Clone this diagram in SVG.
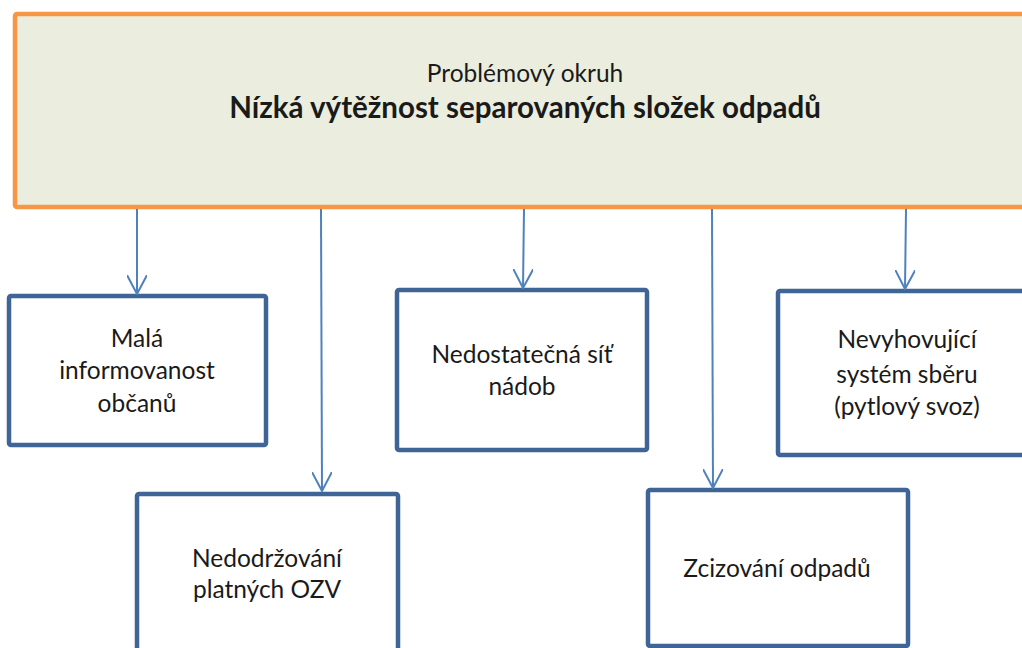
<svg xmlns="http://www.w3.org/2000/svg" width="1022" height="648" viewBox="0 0 1022 648">
<defs>
<style>
.t{font-family:Lato,"Open Sans","Liberation Sans",sans-serif;fill:#1a1a1a;text-anchor:middle}
.n{font-size:24.5px}
.box{fill:#fff;stroke:#3E6595;stroke-width:4.5}
.c{stroke:#4F81BD;stroke-width:2;fill:none}
</style>
<marker id="ah" markerWidth="20" markerHeight="20" refX="19" refY="10" orient="auto" markerUnits="userSpaceOnUse" viewBox="0 0 20 20">
<path d="M0 0 L19 10 L0 20" fill="none" stroke="#4F81BD" stroke-width="2"/>
</marker>
</defs>
<rect width="1022" height="648" fill="#fff"/>
<g id="top">
<rect x="15" y="14" width="1030" height="193" fill="#EBEEDE" stroke="#F79646" stroke-width="4.5" rx="2"/>
<text class="t" x="525" y="82" font-size="24.5">Problémový okruh</text>
<text class="t" x="525" y="118" font-size="29.5" font-weight="bold">Nízká výtěžnost separovaných složek odpadů</text>
</g>
<g id="n1">
<rect class="box" x="9" y="296" width="257" height="149" rx="2"/>
<text class="t n" x="137" y="347">Malá</text>
<text class="t n" x="137" y="379">informovanost</text>
<text class="t n" x="137" y="412">občanů</text>
</g>
<g id="n2">
<rect class="box" x="397" y="290" width="250" height="160" rx="2"/>
<text class="t n" x="522" y="363">Nedostatečná síť</text>
<text class="t n" x="522" y="395">nádob</text>
</g>
<g id="n3">
<rect class="box" x="778" y="291" width="260" height="164" rx="2"/>
<text class="t n" x="907" y="348">Nevyhovující</text>
<text class="t n" x="907" y="383">systém sběru</text>
<text class="t n" x="907" y="415">(pytlový svoz)</text>
</g>
<g id="n4">
<rect class="box" x="137" y="494" width="261" height="170" rx="2"/>
<text class="t n" x="267" y="567">Nedodržování</text>
<text class="t n" x="267" y="598">platných OZV</text>
</g>
<g id="n5">
<rect class="box" x="648" y="490" width="260" height="156" rx="2"/>
<text class="t n" x="777" y="577">Zcizování odpadů</text>
</g>
<g id="connectors">
<path class="c" d="M137 209 L137 294" marker-end="url(#ah)"/>
<path class="c" d="M321 209 L322 491" marker-end="url(#ah)"/>
<path class="c" d="M524 209 L523 288" marker-end="url(#ah)"/>
<path class="c" d="M712 209 L713 488" marker-end="url(#ah)"/>
<path class="c" d="M906 209 L905 289" marker-end="url(#ah)"/>
</g>
</svg>
